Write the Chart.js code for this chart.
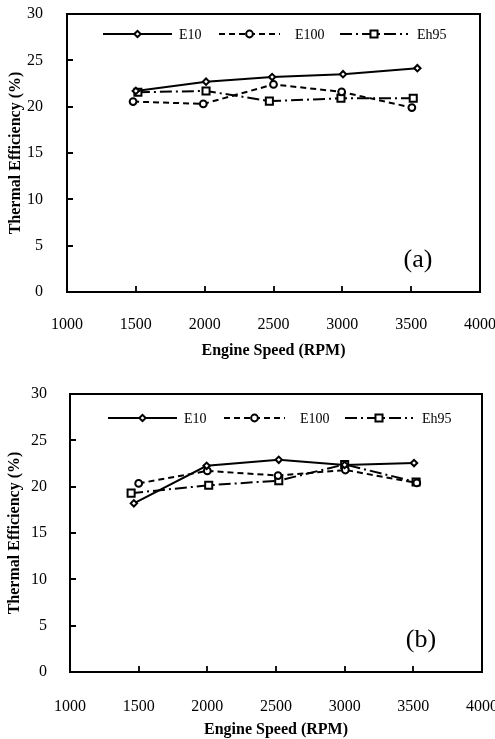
<!DOCTYPE html>
<html>
<head>
<meta charset="utf-8">
<script src="https://cdn.jsdelivr.net/npm/chart.js@4.4.1/dist/chart.umd.min.js"></script>
<style>
  html, body { margin: 0; padding: 0; background: #fff; overflow: hidden; }
  canvas { position: absolute; left: 0; }
  #chartA { top: 0; }
  #chartB { top: 378px; }
</style>
</head>
<body>
<canvas id="chartA" width="495" height="362"></canvas>
<canvas id="chartB" width="495" height="363"></canvas>
<script>
// Assi comuni
const rpmTicks = [1000, 1500, 2000, 2500, 3000, 3500, 4000];
const effTicks = [0, 5, 10, 15, 20, 25, 30];
const seriesNames = ['E10', 'E100', 'Eh95'];

// Grafico (a)
const e10RpmA = [1500, 2010, 2490, 3005, 3545];
const e10EffA = [21.7, 22.7, 23.2, 23.5, 24.15];
const e100RpmA = [1480, 1990, 2500, 2995, 3505];
const e100EffA = [20.55, 20.3, 22.4, 21.6, 19.9];
const eh95RpmA = [1515, 2010, 2470, 2990, 3515];
const eh95EffA = [21.55, 21.7, 20.6, 20.9, 20.9];

// Grafico (b)
const e10RpmB = [1465, 1995, 2520, 3000, 3505];
const e10EffB = [18.2, 22.25, 22.9, 22.35, 22.55];
const e100RpmB = [1500, 2000, 2515, 3005, 3525];
const e100EffB = [20.35, 21.7, 21.2, 21.8, 20.4];
const eh95RpmB = [1445, 2010, 2520, 3000, 3520];
const eh95EffB = [19.3, 20.15, 20.65, 22.4, 20.5];

const SERIF = '"Liberation Serif", "Times New Roman", serif';

const toPoints = (xs, ys) => xs.map((x, i) => ({ x: x, y: ys[i] }));

// stile di ciascuna serie: linea continua, tratteggiata, tratto-punto
const seriesStyle = [
    { borderDash: [], pointStyle: 'rectRot', pointRadius: 3.2 },
    { borderDash: [6, 4], pointStyle: 'circle', pointRadius: 3.4 },
    { borderDash: [12, 4, 2, 4], pointStyle: 'rect', pointRadius: 5 }
];

// Cornice, tacche interne, legenda ed etichetta del pannello
const framePlugin = {
    id: 'frame',
    afterDraw(chart, args, opts) {
        const { ctx, chartArea: a, scales } = chart;
        ctx.save();
        ctx.strokeStyle = '#000';
        ctx.setLineDash([]);

        // tacche verso l'interno
        ctx.lineWidth = 1.8;
        ctx.beginPath();
        effTicks.slice(1, -1).forEach(v => {
            const y = Math.round(scales.y.getPixelForValue(v));
            ctx.moveTo(a.left, y);
            ctx.lineTo(a.left + 6, y);
        });
        rpmTicks.slice(1, -1).forEach(v => {
            const x = Math.round(scales.x.getPixelForValue(v));
            ctx.moveTo(x, a.bottom);
            ctx.lineTo(x, a.bottom - 6);
        });
        ctx.stroke();

        // bordo dell'area del grafico
        ctx.lineWidth = 2;
        ctx.strokeRect(a.left, a.top, a.right - a.left, a.bottom - a.top);

        // legenda disegnata a mano: linea con marcatore al centro
        const legendY = a.top + opts.legendY;
        chart.data.datasets.forEach((ds, i) => {
            const [x0, x1, tx] = opts.legendX[i].map(v => a.left + opts.legendShift + v);
            ctx.lineWidth = ds.borderWidth;
            ctx.setLineDash(ds.borderDash);
            ctx.beginPath();
            ctx.moveTo(x0, legendY);
            ctx.lineTo(x1, legendY);
            ctx.stroke();
            ctx.setLineDash([]);
            ctx.fillStyle = ds.pointBackgroundColor;
            ctx.lineWidth = ds.pointBorderWidth;
            Chart.helpers.drawPoint(ctx, {
                pointStyle: ds.pointStyle,
                radius: ds.pointRadius,
                rotation: 0,
                borderWidth: ds.pointBorderWidth
            }, (x0 + x1) / 2, legendY);
            ctx.fillStyle = '#000';
            ctx.font = '14px ' + SERIF;
            ctx.textBaseline = 'middle';
            ctx.textAlign = 'left';
            ctx.fillText(ds.label, tx, legendY + 1);
        });

        // (a) / (b)
        ctx.font = '26px ' + SERIF;
        ctx.textAlign = 'center';
        ctx.textBaseline = 'middle';
        ctx.fillText(opts.panel, a.left + 351, a.top + 246);
        ctx.restore();
    }
};

function makeChart(id, series, cfg) {
    const datasets = series.map((s, i) => ({
        label: seriesNames[i],
        data: toPoints(s[0], s[1]),
        borderColor: '#000',
        borderWidth: 2,
        borderDash: seriesStyle[i].borderDash,
        pointStyle: seriesStyle[i].pointStyle,
        pointRadius: seriesStyle[i].pointRadius,
        pointBackgroundColor: '#fff',
        pointBorderColor: '#000',
        pointBorderWidth: 2,
        tension: 0,
        fill: false
    }));

    return new Chart(document.getElementById(id), {
        type: 'line',
        data: { datasets: datasets },
        plugins: [framePlugin],
        options: {
            responsive: false,
            animation: false,
            devicePixelRatio: 1,
            layout: { padding: { top: cfg.top, right: cfg.right, left: cfg.left, bottom: 0 } },
            plugins: {
                legend: { display: false },
                tooltip: { enabled: false },
                frame: cfg.frame
            },
            scales: {
                x: {
                    type: 'linear',
                    min: 1000,
                    max: 4000,
                    afterBuildTicks: scale => { scale.ticks = rpmTicks.map(v => ({ value: v })); },
                    afterFit: scale => {
                        scale.height = cfg.xHeight;
                        scale.paddingLeft = 0;
                        scale.paddingRight = 0;
                    },
                    grid: { display: false, drawTicks: false },
                    border: { display: false },
                    ticks: {
                        color: '#000',
                        padding: cfg.xPad,
                        maxRotation: 0,
                        autoSkip: false,
                        callback: v => String(v),
                        font: { family: SERIF, size: 16 }
                    },
                    title: {
                        display: true,
                        text: 'Engine Speed (RPM)',
                        color: '#000',
                        padding: { top: 4, bottom: 2 },
                        font: { family: SERIF, size: 16, weight: 'bold' }
                    }
                },
                y: {
                    min: 0,
                    max: 30,
                    afterBuildTicks: scale => { scale.ticks = effTicks.map(v => ({ value: v })); },
                    afterFit: scale => {
                        scale.width = cfg.yWidth;
                        scale.paddingTop = 0;
                        scale.paddingBottom = 0;
                    },
                    grid: { display: false, drawTicks: false },
                    border: { display: false },
                    ticks: {
                        color: '#000',
                        padding: cfg.yPad,
                        callback: v => String(v),
                        font: { family: SERIF, size: 16 }
                    },
                    title: {
                        display: true,
                        text: 'Thermal Efficiency (%)',
                        color: '#000',
                        padding: { top: 4, bottom: 4 },
                        font: { family: SERIF, size: 16, weight: 'bold' }
                    }
                }
            }
        }
    });
}

const legendX = [[36, 105, 112], [152, 213, 228], [273, 341, 350]];

makeChart('chartA', [[e10RpmA, e10EffA], [e100RpmA, e100EffA], [eh95RpmA, eh95EffA]], {
    top: 14, right: 15, left: 2, yWidth: 65, xHeight: 70, xPad: 23, yPad: 24,
    frame: { panel: '(a)', legendY: 20, legendX: legendX, legendShift: 0 }
});

makeChart('chartB', [[e10RpmB, e10EffB], [e100RpmB, e100EffB], [eh95RpmB, eh95EffB]], {
    top: 16, right: 13, left: 1, yWidth: 69, xHeight: 69, xPad: 25, yPad: 23,
    frame: { panel: '(b)', legendY: 24, legendX: legendX, legendShift: 2 }
});
</script>
</body>
</html>
